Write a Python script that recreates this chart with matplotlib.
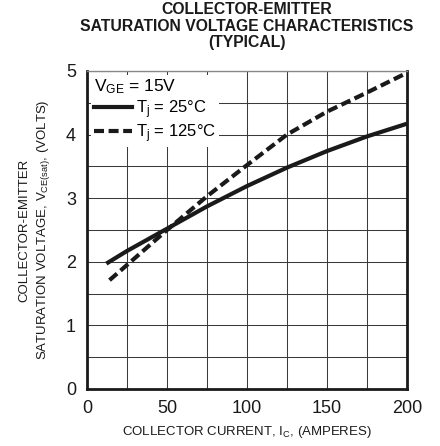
import matplotlib
matplotlib.use("Agg")
import matplotlib.pyplot as plt
from matplotlib.ticker import MultipleLocator
from matplotlib.lines import Line2D

plt.rcParams['font.family'] = ['Liberation Sans', 'DejaVu Sans']
plt.rcParams['mathtext.fontset'] = 'custom'
plt.rcParams['mathtext.rm'] = 'Liberation Sans'
plt.rcParams['mathtext.it'] = 'Liberation Sans:italic'
plt.rcParams['mathtext.bf'] = 'Liberation Sans:bold'

# Data
ic_25 = [12, 25, 50, 75, 100, 125, 150, 175, 200]
vce_25 = [1.97, 2.17, 2.52, 2.87, 3.19, 3.48, 3.74, 3.97, 4.17]
ic_125 = [14, 25, 50, 75, 100, 125, 150, 175, 200]
vce_125 = [1.71, 1.95, 2.50, 3.03, 3.52, 4.00, 4.36, 4.66, 4.97]

x_ticks = [0, 50, 100, 150, 200]
y_ticks = [0, 1, 2, 3, 4, 5]

DASH = (0, (2.4, 1.1))
INK = '#1a1a1a'

fig = plt.figure(figsize=(4.4, 4.46), dpi=100)
ax = fig.add_axes([0.198, 0.128, 0.727, 0.713])

ax.plot(ic_25, vce_25, color=INK, lw=3.0, solid_capstyle='butt', zorder=3)
ax.plot(ic_125, vce_125, color=INK, lw=3.0, ls=DASH, zorder=3)

ax.set_xlim(0, 200)
ax.set_ylim(0, 5)
ax.set_xticks(x_ticks)
ax.set_yticks(y_ticks)
ax.xaxis.set_minor_locator(MultipleLocator(25))
ax.yaxis.set_minor_locator(MultipleLocator(0.5))
ax.grid(True, which='both', color='#3a3a3a', lw=0.75, zorder=1)
ax.tick_params(which='both', length=0, labelsize=13, pad=8, colors=INK)

for side in ['left', 'bottom', 'right']:
    ax.spines[side].set_linewidth(2.0)
    ax.spines[side].set_color(INK)
ax.spines['top'].set_linewidth(1.0)
ax.spines['top'].set_color('#888888')

ax.set_xlabel('COLLECTOR CURRENT, I$_\\mathrm{C}$, (AMPERES)', fontsize=9.5, color=INK, labelpad=5)
ax.set_ylabel('COLLECTOR-EMITTER\nSATURATION VOLTAGE, V$_\\mathrm{CE(sat)}$, (VOLTS)',
              fontsize=9.5, color=INK, labelpad=10, linespacing=1.45)

fig.text(0.561, 0.995, 'COLLECTOR-EMITTER\nSATURATION VOLTAGE CHARACTERISTICS\n(TYPICAL)',
         ha='center', va='top', fontsize=11.3, fontweight='bold', color=INK, linespacing=1.12)

handles = [Line2D([], [], color=INK, lw=3.0),
           Line2D([], [], color=INK, lw=3.0, ls=DASH)]
leg = ax.legend(handles, ['T$_\\mathrm{j}$ = 25°C', 'T$_\\mathrm{j}$ = 125°C'],
                title='V$_\\mathrm{GE}$ = 15V', loc='upper left', fontsize=12,
                title_fontsize=12.5, frameon=True, framealpha=1, edgecolor='none',
                facecolor='white', handlelength=2.3, handletextpad=0.25,
                borderaxespad=0.25, borderpad=0.15, labelspacing=0.1, fancybox=False)
leg._legend_box.align = 'left'
leg.set_zorder(4)

fig.savefig('out.png', dpi=100)
